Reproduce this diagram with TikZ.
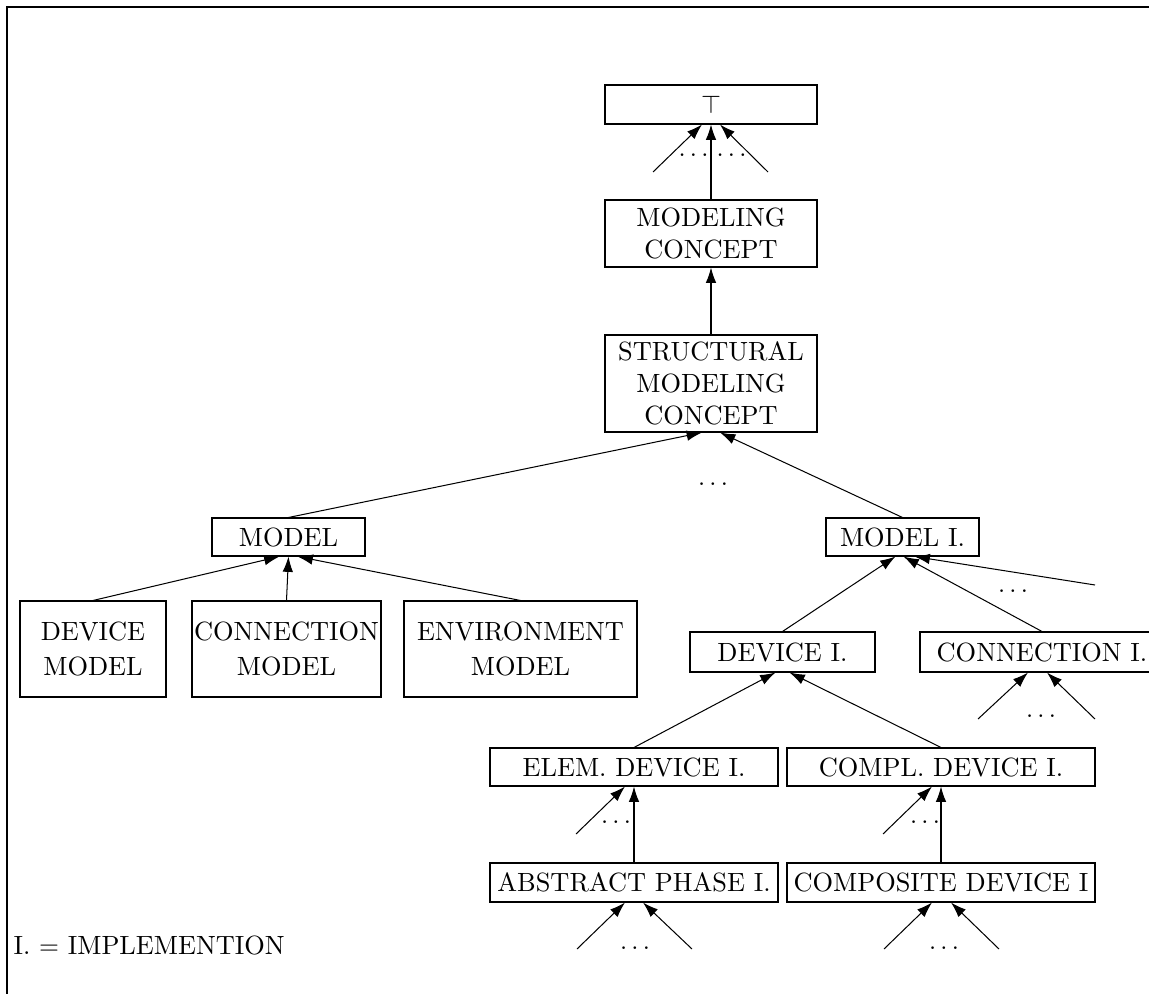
\documentclass[tikz,border=0pt]{standalone}
\usetikzlibrary{arrows.meta}
\newlength\pxu
\setlength\pxu{0.3906pt}
\newcommand\opendots{$\ldots$}
\tikzset{
  box/.style 2 args={draw, rectangle, inner sep=0pt, align=center,
    minimum width=#1\pxu, minimum height=#2\pxu},
  isa/.style={-{Latex[length=6pt,width=4.1pt]}},
  frame/.style={line width=0.85pt},
  every node/.append style={font=\fontsize{10.3}{12.4}\selectfont},
}
\begin{document}
\begin{tikzpicture}[x=0.3906pt, y=-0.3906pt]
\useasboundingbox (0,0) rectangle (1149,994);
% frame
\draw[frame] (7,1005) -- (7,7) -- (1160,7);

% upper chain
\node[box={212}{39}] (top) at (711,104.5) {$\top$};
\node[box={212}{67}] (mc) at (711,233.5) {MODELING\\CONCEPT};
\node[box={212}{97}] (smc) at (711,383.5) {STRUCTURAL\\MODELING\\CONCEPT};

% models
\node[box={153}{38}] (model) at (288.5,537) {MODEL};
\node[box={153}{38}] (modeli) at (902.5,537) {MODEL I.};
\node[box={146}{96}] (devm) at (93,649) {DEVICE\\[1.5pt]MODEL};
\node[box={189}{96}] (connm) at (286.5,649) {CONNECTION\\[1.5pt]MODEL};
\node[box={233}{96}] (envm) at (520.5,649) {ENVIRONMENT\\[1.5pt]MODEL};

% implementations
\node[box={185}{40}] (devi) at (782.5,652) {DEVICE I.};
\node[box={244}{40}] (conni) at (1042,652) {CONNECTION I.};
\node[box={288}{38}] (elem) at (634,767) {ELEM. DEVICE I.};
\node[box={308}{38}] (compl) at (941,767) {COMPL. DEVICE I.};
\node[box={288}{39}] (abst) at (634,882.5) {ABSTRACT PHASE I.};
\node[box={308}{39}] (comp) at (941,882.5) {COMPOSITE DEVICE I};

% legend
\node[anchor=west, inner sep=0pt] (legend) at (13,945) {I. $=$ IMPLEMENTION};

% free ends of open-ended relations
\coordinate (t1) at (653,172);
\coordinate (t2) at (768,172);
\coordinate (mi3) at (1095,585);
\coordinate (c1) at (978,719);
\coordinate (c2) at (1095,719);
\coordinate (e1) at (576,834);
\coordinate (p1) at (883,834);
\coordinate (a1) at (577,949);
\coordinate (a2) at (692,949);
\coordinate (q1) at (884,949);
\coordinate (q2) at (999,949);

% relations into the top
\draw[isa] (mc.north) -- (top.south);
\draw[isa] (t1) -- ([xshift=-9\pxu]top.south);
\draw[isa] (t2) -- ([xshift=9\pxu]top.south);
\node (dt1) at (693.5,155) {\opendots};
\node (dt2) at (731.5,155) {\opendots};

\draw[isa] (smc.north) -- (mc.south);
\draw[isa] (model.north) -- ([xshift=-9\pxu]smc.south);
\draw[isa] (modeli.north) -- ([xshift=9\pxu]smc.south);
\node (ds) at (713,484) {\opendots};

\draw[isa] (devm.north) -- ([xshift=-9\pxu]model.south);
\draw[isa] (connm.north) -- (model.south);
\draw[isa] (envm.north) -- ([xshift=9\pxu]model.south);

\draw[isa] (devi.north) -- ([xshift=-7\pxu]modeli.south);
\draw[isa] (conni.north) -- ([xshift=1\pxu]modeli.south);
\draw[isa] (mi3) -- ([xshift=12\pxu]modeli.south);
\node (dmi) at (1013,591) {\opendots};

\draw[isa] (c1) -- ([xshift=-14\pxu]conni.south);
\draw[isa] (c2) -- ([xshift=5\pxu]conni.south);
\node (dc) at (1041,716) {\opendots};

\draw[isa] (elem.north) -- ([xshift=-7\pxu]devi.south);
\draw[isa] (compl.north) -- ([xshift=7\pxu]devi.south);

\draw[isa] (abst.north) -- (elem.south);
\draw[isa] (e1) -- ([xshift=-9\pxu]elem.south);
\node (de) at (616,822) {\opendots};

\draw[isa] (comp.north) -- (compl.south);
\draw[isa] (p1) -- ([xshift=-9\pxu]compl.south);
\node (dp) at (925,822) {\opendots};

\draw[isa] (a1) -- ([xshift=-9\pxu]abst.south);
\draw[isa] (a2) -- ([xshift=9\pxu]abst.south);
\node (da) at (635,948) {\opendots};

\draw[isa] (q1) -- ([xshift=-9\pxu]comp.south);
\draw[isa] (q2) -- ([xshift=10\pxu]comp.south);
\node (dq) at (944,948) {\opendots};
\end{tikzpicture}
\end{document}
